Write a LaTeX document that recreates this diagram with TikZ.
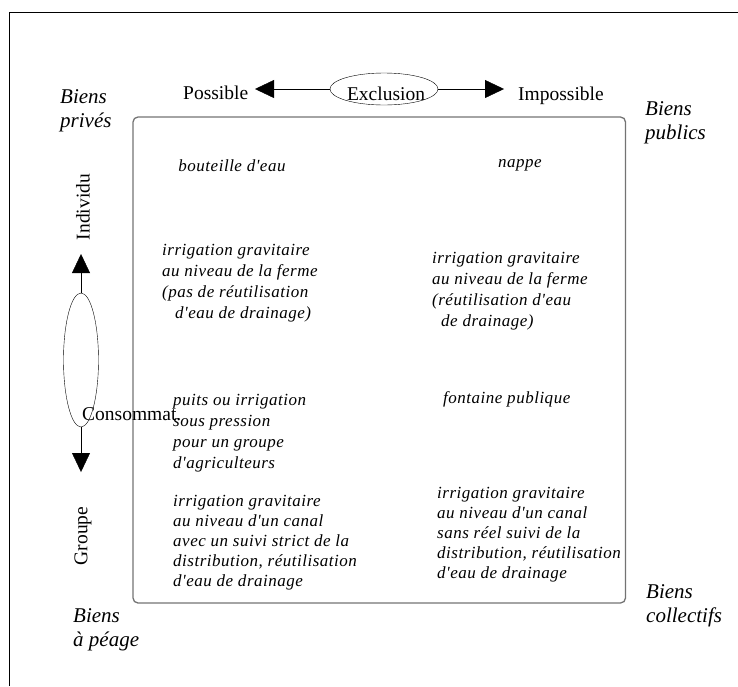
\documentclass[tikz,border=0pt]{standalone}
\usepackage{fontspec}
\setmainfont{Liberation Serif}
\newfontfamily\itspaced[LetterSpace=3]{Liberation Serif}
\usetikzlibrary{positioning, arrows.meta, shapes.geometric}
\tikzset{
  cell1/.style = {
    inner sep = 0pt,
    align = left,
    anchor = base west,
    font = \fontsize{17}{21}\selectfont\itspaced\itshape,
  }
}
\tikzset{
  biens1/.style = {
    inner sep = 0pt,
    align = left,
    anchor = base west,
    font = \fontsize{21}{24}\selectfont\itshape,
  }
}
\tikzset{
  word1/.style = {
    inner sep = 0pt,
    font = \fontsize{19.5}{22}\selectfont,
  }
}
\tikzset{
  arrow1/.style = {
    draw = black, -{Triangle[length = 19pt, width = 18pt]},
  }
}

\begin{document}
\begin{tikzpicture}[x=1pt, y=-1pt]
        \useasboundingbox (0,0) rectangle (738,686);
        \draw[black] (9,686) -- (9,12.5) -- (738,12.5);
        \draw[black!55, line width = 1.3pt, rounded corners = 5pt] (133,117) rectangle (625.5,603);
        % exclusion
        \node[word1, draw, ellipse, minimum width = 108pt, minimum height = 32pt](excl) at (384,89){};
        \node[word1, anchor = base] at (386,100){Exclusion};
        \node[word1, anchor = base west](poss) at (183,99){Possible};
        \node[word1, anchor = base west](imposs) at (518,100){Impossible};
        \coordinate (ltip) at (255,89);
        \coordinate (rtip) at (504,89);
        \draw[arrow1](excl) -- (ltip);
        \draw[arrow1](excl) -- (rtip);
        % consommation
        \node[word1, draw, ellipse, minimum width = 35pt, minimum height = 134pt](cons) at (81,360){};
        \node[word1, anchor = base west] at (82,420){Consommat.};
        \node[word1, rotate = 90](indiv) at (83,207){Individu};
        \node[word1, rotate = 90](grp) at (83,536){Groupe};
        \coordinate (utip) at (81,254);
        \coordinate (dtip) at (81,472);
        \draw[arrow1](cons) -- (utip);
        \draw[arrow1](cons) -- (dtip);
        % biens (anchored on the last line)
        \node[biens1](b1) at (60,127){Biens\\priv\'es};
        \node[biens1](b2) at (645,139){Biens\\publics};
        \node[biens1](b3) at (73,646){Biens\\\`a p\'eage};
        \node[biens1](b4) at (646,622){Biens\\collectifs};
        % cells (anchored on the last line)
        \node[cell1, anchor = base](c1) at (232,171){bouteille d'eau};
        \node[cell1, anchor = base](c2) at (520,167){nappe};
        \node[cell1](c3) at (162,318){irrigation gravitaire\\au niveau de la ferme\\(pas de r\'eutilisation\\\hspace*{13pt}d'eau de drainage)};
        \node[cell1](c4) at (432,326){irrigation gravitaire\\au niveau de la ferme\\(r\'eutilisation d'eau\\\hspace*{9pt}de drainage)};
        \node[cell1](c5) at (173,468){puits ou irrigation\\sous pression\\pour un groupe\\d'agriculteurs};
        \node[cell1](c6) at (443,403){fontaine publique};
        \node[cell1, font = \fontsize{17}{20}\selectfont\itspaced\itshape](c7) at (173,586){irrigation gravitaire\\au niveau d'un canal\\avec un suivi strict de la\\distribution, r\'eutilisation\\d'eau de drainage};
        \node[cell1, font = \fontsize{17}{20}\selectfont\itspaced\itshape](c8) at (437,578){irrigation gravitaire\\au niveau d'un canal\\sans r\'eel suivi de la\\distribution, r\'eutilisation\\d'eau de drainage};
    \end{tikzpicture}
\end{document}
